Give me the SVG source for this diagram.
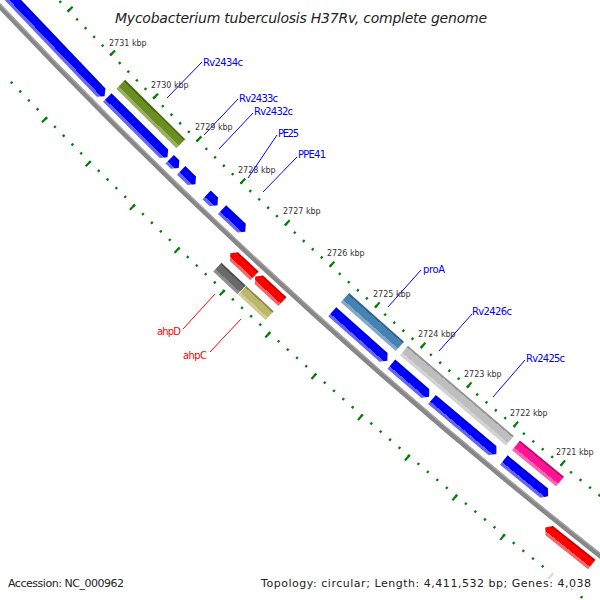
<svg xmlns="http://www.w3.org/2000/svg" width="600" height="600" viewBox="0 0 600 600">
<style>
.tk{font-family:"DejaVu Sans",sans-serif;font-size:8px;fill:#333}
.gl{font-family:"DejaVu Sans",sans-serif;font-size:10px}
.lb{stroke:#0000ff;stroke-width:1;fill:none}
.lr{stroke:#ff0000;stroke-width:1;fill:none}
.ft{font-family:"DejaVu Sans",sans-serif;font-size:11px;fill:#222}
</style>
<defs>
<clipPath id="outerClip"><polygon points="-61,150 77,6 120,-40 700,-40 700,700 -61,700"/></clipPath>
<linearGradient id="gBlue" x1="0" y1="0" x2="1" y2="0"><stop offset="0" stop-color="#0000c0"/><stop offset="0.15" stop-color="#0000c0"/><stop offset="0.15" stop-color="#0000ff"/><stop offset="0.72" stop-color="#0000ff"/><stop offset="0.72" stop-color="#6464ff"/><stop offset="1" stop-color="#6464ff"/></linearGradient>
<linearGradient id="gRed" x1="0" y1="0" x2="1" y2="0"><stop offset="0" stop-color="#c00000"/><stop offset="0.15" stop-color="#c00000"/><stop offset="0.15" stop-color="#ff0000"/><stop offset="0.72" stop-color="#ff0000"/><stop offset="0.72" stop-color="#ff6464"/><stop offset="1" stop-color="#ff6464"/></linearGradient>
<linearGradient id="gOlive" x1="0" y1="0" x2="1" y2="0"><stop offset="0" stop-color="#4e6a18"/><stop offset="0.15" stop-color="#4e6a18"/><stop offset="0.15" stop-color="#6b8e23"/><stop offset="0.72" stop-color="#6b8e23"/><stop offset="0.72" stop-color="#97b060"/><stop offset="1" stop-color="#97b060"/></linearGradient>
<linearGradient id="gSteel" x1="0" y1="0" x2="1" y2="0"><stop offset="0" stop-color="#33628a"/><stop offset="0.15" stop-color="#33628a"/><stop offset="0.15" stop-color="#4682b4"/><stop offset="0.72" stop-color="#4682b4"/><stop offset="0.72" stop-color="#7fa8cc"/><stop offset="1" stop-color="#7fa8cc"/></linearGradient>
<linearGradient id="gGray" x1="0" y1="0" x2="1" y2="0"><stop offset="0" stop-color="#959595"/><stop offset="0.15" stop-color="#959595"/><stop offset="0.15" stop-color="#bebebe"/><stop offset="0.72" stop-color="#bebebe"/><stop offset="0.72" stop-color="#d2d2d2"/><stop offset="1" stop-color="#d2d2d2"/></linearGradient>
<linearGradient id="gPink" x1="0" y1="0" x2="1" y2="0"><stop offset="0" stop-color="#b80e6a"/><stop offset="0.15" stop-color="#b80e6a"/><stop offset="0.15" stop-color="#ff1493"/><stop offset="0.72" stop-color="#ff1493"/><stop offset="0.72" stop-color="#ff62b4"/><stop offset="1" stop-color="#ff62b4"/></linearGradient>
<linearGradient id="gDim" x1="0" y1="0" x2="1" y2="0"><stop offset="0" stop-color="#4c4c4c"/><stop offset="0.15" stop-color="#4c4c4c"/><stop offset="0.15" stop-color="#696969"/><stop offset="0.72" stop-color="#696969"/><stop offset="0.72" stop-color="#8e8e8e"/><stop offset="1" stop-color="#8e8e8e"/></linearGradient>
<linearGradient id="gKhaki" x1="0" y1="0" x2="1" y2="0"><stop offset="0" stop-color="#8f8a4e"/><stop offset="0.15" stop-color="#8f8a4e"/><stop offset="0.15" stop-color="#bdb76b"/><stop offset="0.72" stop-color="#bdb76b"/><stop offset="0.72" stop-color="#d0cb90"/><stop offset="1" stop-color="#d0cb90"/></linearGradient>
</defs>
<rect width="600" height="600" fill="#ffffff"/>

<g id="rulers" fill="none" stroke="#008000">
<circle cx="4048" cy="-3815" r="5520" stroke-width="2.5" stroke-dasharray="2.2 9.9916" stroke-dashoffset="-12442.94"/>
<circle cx="4048" cy="-3815" r="5518" stroke-width="7" stroke-dasharray="2.2 58.736" stroke-dashoffset="-12438.43"/>
<g clip-path="url(#outerClip)">
<circle cx="4048" cy="-3815" r="5611" stroke-width="2.5" stroke-dasharray="2.2 10.1926" stroke-dashoffset="-12648.09"/>
<circle cx="4048" cy="-3815" r="5613.5" stroke-width="7" stroke-dasharray="2.2 59.791" stroke-dashoffset="-12653.73"/>
</g>
</g>

<g id="backbone" fill="none">
<circle cx="4048" cy="-3815" r="5567" stroke="#878787" stroke-width="5"/>
<circle cx="4048" cy="-3815" r="5565" stroke="#a8a8a8" stroke-width="1.2"/>
</g>

<g id="features" transform="translate(4048 -3815)">
<g id="Rv2435c" transform="rotate(136.3675) translate(5553 0)"><polygon fill="url(#gBlue)" points="-6,109.76 6,109.76 6,-104.76 0,-109.76 -6,-104.76"/></g>
<g id="Rv2434c" transform="rotate(134.7675) translate(5553 0)"><polygon fill="url(#gBlue)" points="-6,42.4 6,42.4 6,-37.4 0,-42.4 -6,-37.4"/></g>
<g id="Rv2434c-gene" transform="rotate(134.7675) translate(5534 0)"><rect fill="url(#gOlive)" x="-6.25" y="-42.26" width="12.5" height="84.52"/></g>
<g id="Rv2433c" transform="rotate(134.235) translate(5553 0)"><polygon fill="url(#gBlue)" points="-6,6.3 6,6.3 6,-1.3 0,-6.3 -6,-1.3"/></g>
<g id="Rv2432c" transform="rotate(134.0325) translate(5553 0)"><polygon fill="url(#gBlue)" points="-6,9.93 6,9.93 6,-4.93 0,-9.93 -6,-4.93"/></g>
<g id="PE25" transform="rotate(133.6925) translate(5553 0)"><polygon fill="url(#gBlue)" points="-6,7.51 6,7.51 6,-2.51 0,-7.51 -6,-2.51"/></g>
<g id="PPE41" transform="rotate(133.385) translate(5553 0)"><polygon fill="url(#gBlue)" points="-6,15.99 6,15.99 6,-10.99 0,-15.99 -6,-10.99"/></g>
<g id="ahpD" transform="rotate(133.01) translate(5579 0)"><polygon fill="url(#gRed)" points="-6,-16.55 6,-16.55 6,11.55 0,16.55 -6,11.55"/></g>
<g id="ahpD-gene" transform="rotate(133.01) translate(5598 0)"><rect fill="url(#gDim)" x="-6" y="-16.61" width="12" height="33.22"/></g>
<g id="ahpC" transform="rotate(132.64) translate(5579 0)"><polygon fill="url(#gRed)" points="-6,-18.5 6,-18.5 6,13.5 0,18.5 -6,13.5"/></g>
<g id="ahpC-gene" transform="rotate(132.64) translate(5598 0)"><rect fill="url(#gKhaki)" x="-6" y="-18.56" width="12" height="37.12"/></g>
<g id="proA" transform="rotate(131.62) translate(5553 0)"><polygon fill="url(#gBlue)" points="-6,36.83 6,36.83 6,-31.83 0,-36.83 -6,-31.83"/></g>
<g id="proA-gene" transform="rotate(131.62) translate(5534 0)"><rect fill="url(#gSteel)" x="-6.25" y="-36.7" width="12.5" height="73.4"/></g>
<g id="Rv2426c" transform="rotate(130.9275) translate(5553 0)"><polygon fill="url(#gBlue)" points="-6,24.96 6,24.96 6,-19.96 0,-24.96 -6,-19.96"/></g>
<g id="Rv2425c" transform="rotate(130.195) translate(5553 0)"><polygon fill="url(#gBlue)" points="-6,42.16 6,42.16 6,-37.16 0,-42.16 -6,-37.16"/></g>
<g id="Rv2426c-Rv2425c-gene" transform="rotate(130.46) translate(5534 0)"><rect fill="url(#gGray)" x="-6.25" y="-69.54" width="12.5" height="139.08"/></g>
<g id="Rv2424c" transform="rotate(129.365) translate(5553 0)"><polygon fill="url(#gBlue)" points="-6,28.59 6,28.59 6,-23.59 0,-28.59 -6,-23.59"/></g>
<g id="Rv2424c-gene" transform="rotate(129.365) translate(5534 0)"><rect fill="url(#gPink)" x="-6.25" y="-28.49" width="12.5" height="56.98"/></g>
<g id="Rv2423" transform="rotate(128.585) translate(5579 0)"><polygon fill="url(#gRed)" points="-6,-29.7 6,-29.7 6,24.7 0,29.7 -6,24.7"/></g>
</g>

<g id="tick-labels" class="tk">
<text x="109" y="46">2731 kbp</text>
<text x="151" y="88">2730 kbp</text>
<text x="195" y="130">2729 kbp</text>
<text x="238" y="173">2728 kbp</text>
<text x="283" y="214">2727 kbp</text>
<text x="327" y="256">2726 kbp</text>
<text x="373" y="297">2725 kbp</text>
<text x="418" y="337">2724 kbp</text>
<text x="464" y="377">2723 kbp</text>
<text x="510" y="416">2722 kbp</text>
<text x="556" y="455">2721 kbp</text>
</g>

<g id="connectors">
<line class="lb" x1="167" y1="98" x2="202" y2="62"/>
<line class="lb" x1="204" y1="135" x2="238" y2="99"/>
<line class="lb" x1="219" y1="149" x2="253" y2="113"/>
<line class="lb" x1="248" y1="178" x2="277" y2="135"/>
<line class="lb" x1="263" y1="192" x2="297" y2="157"/>
<line class="lb" x1="388" y1="307" x2="421" y2="270"/>
<line class="lb" x1="439" y1="351" x2="472" y2="314"/>
<line class="lb" x1="493" y1="397" x2="525" y2="360"/>
<line class="lr" x1="215" y1="294" x2="183" y2="329"/>
<line class="lr" x1="241" y1="319" x2="210" y2="352"/>
</g>

<g id="gene-labels" class="gl">
<text x="203" y="66" fill="#0000ff" textLength="40">Rv2434c</text>
<text x="239" y="102" fill="#0000ff" textLength="39">Rv2433c</text>
<text x="254" y="115" fill="#0000ff" textLength="39">Rv2432c</text>
<text x="278" y="137" fill="#0000ff" textLength="21">PE25</text>
<text x="298" y="158" fill="#0000ff" textLength="28">PPE41</text>
<text x="423" y="273" fill="#0000ff" textLength="22">proA</text>
<text x="472" y="315" fill="#0000ff" textLength="40">Rv2426c</text>
<text x="526" y="362" fill="#0000ff" textLength="39">Rv2425c</text>
<text x="181" y="335" fill="#ff0000" text-anchor="end" textLength="24">ahpD</text>
<text x="207" y="359" fill="#ff0000" text-anchor="end" textLength="24">ahpC</text>
</g>

<g id="title">
<text x="301" y="23" text-anchor="middle" font-family="DejaVu Sans, sans-serif" font-style="italic" font-size="14" fill="#222" textLength="372">Mycobacterium tuberculosis H37Rv, complete genome</text>
</g>

<g id="footer">
<rect x="256" y="572" width="340" height="24" fill="#ffffff" fill-opacity="0.8"/>
<text class="ft" x="8" y="587" textLength="116">Accession: NC_000962</text>
<text class="ft" x="261" y="587" textLength="330">Topology: circular; Length: 4,411,532 bp; Genes: 4,038</text>
</g>
</svg>
